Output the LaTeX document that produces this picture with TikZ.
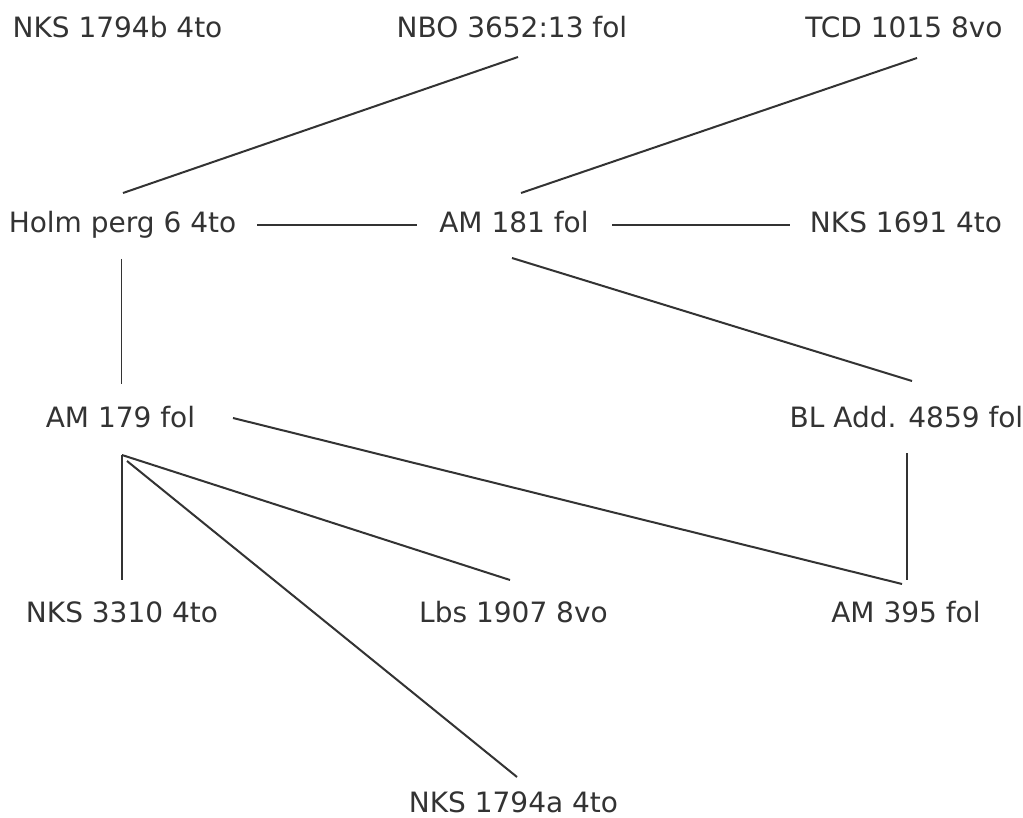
\documentclass[tikz,border=0pt]{standalone}
\usepackage{fontspec}
\setmainfont{DejaVu Sans}
\definecolor{ink}{HTML}{333333}
\begin{document}
\begin{tikzpicture}[x=1pt,y=-1pt,
  lbl/.style={inner sep=0pt,anchor=base,text=ink,font=\fontsize{28}{30}\selectfont},
  edge/.style={draw=ink,line width=2pt},
  straight/.style={draw=ink,line width=1.5pt}]
\useasboundingbox[fill=white] (0,0) rectangle (1023,818);
% nodes
\node[lbl] (nks1794b) at (117.5,38) {NKS 1794b 4to};
\node[lbl] (nbo) at (512,38) {NBO 3652:13 fol};
\node[lbl] (tcd) at (904,38) {TCD 1015 8vo};
\node[lbl] (holm) at (122.5,233) {Holm perg 6 4to};
\node[lbl] (am181) at (514,233) {AM 181 fol};
\node[lbl] (nks1691) at (906,233) {NKS 1691 4to};
\node[lbl] (am179) at (120.5,427) {AM 179 fol};
\node[lbl] (bl) at (906.5,427) {BL Add. 4859 fol};
\node[lbl] (nks3310) at (122,622) {NKS 3310 4to};
\node[lbl] (lbs) at (513.5,622) {Lbs 1907 8vo};
\node[lbl] (am395) at (906,622) {AM 395 fol};
\node[lbl] (nks1794a) at (513.5,812) {NKS 1794a 4to};
% connector end points
\coordinate (holm-ne) at (123,193);
\coordinate (nbo-s) at (518,57);
\coordinate (am181-n) at (521,193);
\coordinate (tcd-s) at (917,58);
\coordinate (holm-e) at (257,225);
\coordinate (am181-w) at (417,225);
\coordinate (am181-e) at (612,225);
\coordinate (nks1691-w) at (790,225);
\coordinate (holm-s) at (121.5,259);
\coordinate (am179-n) at (121.5,384);
\coordinate (am181-s) at (512,258);
\coordinate (bl-n) at (912,381);
\coordinate (am179-e) at (233,418);
\coordinate (am395-nw) at (902,584);
\coordinate (bl-s) at (907,453);
\coordinate (am395-n) at (907,580);
\coordinate (am179-s) at (122,455);
\coordinate (am179-s2) at (127,461);
\coordinate (nks3310-n) at (122,580);
\coordinate (lbs-n) at (510,580);
\coordinate (nks1794a-n) at (517,777);
% connectors
\draw[edge] (holm-ne) -- (nbo-s);
\draw[edge] (am181-n) -- (tcd-s);
\draw[straight] (holm-e) -- (am181-w);
\draw[straight] (am181-e) -- (nks1691-w);
\draw[straight] (holm-s) -- (am179-n);
\draw[edge] (am181-s) -- (bl-n);
\draw[edge] (am179-e) -- (am395-nw);
\draw[straight] (bl-s) -- (am395-n);
\draw[straight] (am179-s) -- (nks3310-n);
\draw[edge] (am179-s) -- (lbs-n);
\draw[edge] (am179-s2) -- (nks1794a-n);
\end{tikzpicture}
\end{document}
